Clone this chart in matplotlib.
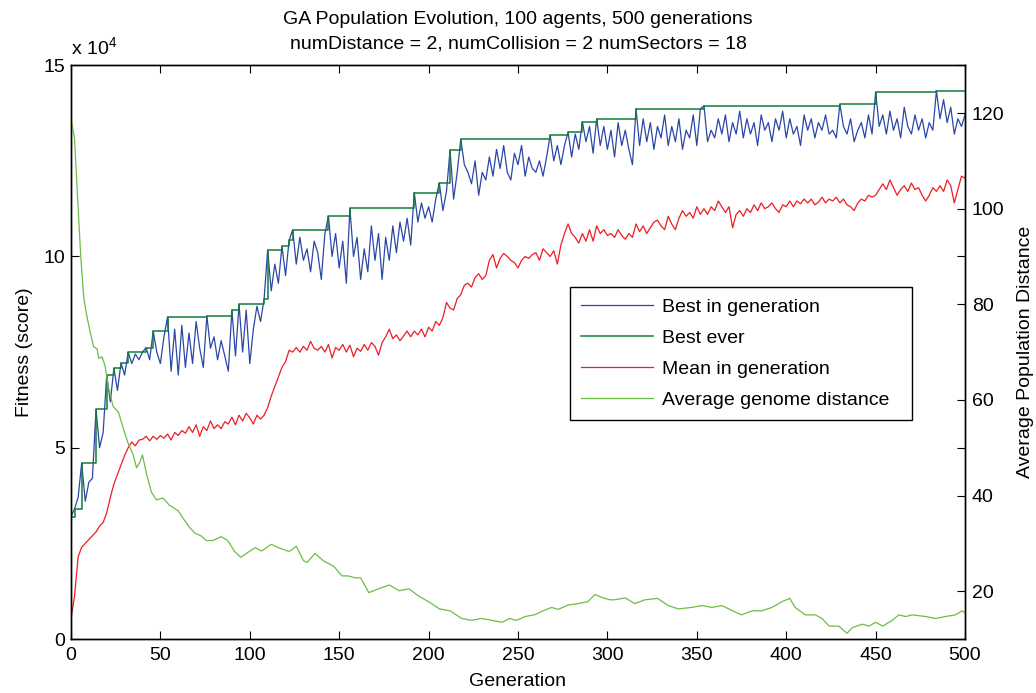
import numpy as np
import matplotlib.pyplot as plt

plt.rcParams['font.family'] = ['Liberation Sans', 'DejaVu Sans']
plt.rcParams['mathtext.fontset'] = 'custom'
plt.rcParams['mathtext.rm'] = 'Liberation Sans'

# fitness values in units of 1e4, one value every 2 generations (0..500)
best_gen = [
    3.2, 3.4, 3.7, 4.6, 3.6, 4.1, 4.2, 6.0, 5.0, 5.4,
    6.9, 6.2, 7.08, 6.5, 7.22, 6.9, 7.5, 7.2, 7.45, 7.3,
    7.5, 7.62, 7.3, 8.05, 7.5, 7.2, 7.9, 8.42, 7.0, 8.1,
    6.9, 8.2, 7.1, 8.0, 7.2, 8.3, 7.6, 7.1, 8.45, 7.6,
    7.9, 7.3, 7.8, 7.4, 7.0, 8.6, 7.4, 8.75, 7.5, 8.6,
    7.2, 8.1, 8.7, 8.3, 8.88, 10.17, 9.1, 9.8, 9.3, 10.27,
    9.5, 10.42, 10.7, 9.8, 10.5, 9.9, 10.2, 9.6, 10.4, 10.1,
    9.4, 10.6, 11.05, 10.0, 10.6, 9.7, 10.4, 9.3, 11.26, 10.0,
    10.5, 9.4, 10.2, 9.6, 10.8, 9.9, 10.6, 9.4, 10.5, 9.9,
    10.8, 10.1, 10.9, 10.4, 11.0, 10.3, 11.67, 10.9, 11.4, 11.0,
    11.3, 10.9, 11.5, 11.92, 11.2, 11.7, 12.78, 11.5, 12.2, 13.07,
    12.4, 12.2, 11.9, 12.5, 11.6, 12.2, 12.0, 12.6, 12.1, 12.8,
    12.3, 12.9, 12.2, 12.0, 12.7, 12.4, 12.9, 12.1, 12.6, 12.3,
    12.2, 12.5, 12.1, 12.6, 13.17, 12.5, 12.9, 12.4, 12.9, 13.25,
    12.6, 13.2, 12.8, 13.52, 13.0, 13.4, 12.7, 13.6, 12.9, 13.4,
    12.8, 13.3, 12.6, 13.5, 12.9, 13.3, 12.8, 12.4, 13.86, 12.9,
    13.6, 13.0, 13.5, 12.8, 13.4, 13.1, 13.7, 12.9, 13.4, 13.0,
    13.6, 12.8, 13.3, 13.1, 13.7, 12.9, 13.86, 13.94, 13.0, 13.3,
    13.1, 13.6, 13.2, 13.7, 13.0, 13.5, 13.2, 13.8, 13.1, 13.6,
    13.2, 13.5, 12.9, 13.7, 13.3, 13.5, 13.0, 13.6, 13.3, 13.8,
    13.1, 13.6, 13.2, 13.4, 12.9, 13.7, 13.3, 13.6, 13.1, 13.5,
    13.3, 13.7, 13.2, 13.3, 13.1, 13.98, 13.4, 13.2, 13.6, 13.0,
    13.3, 13.5, 13.1, 13.7, 13.2, 14.3, 13.4, 13.7, 13.2, 13.8,
    13.3, 13.6, 13.1, 13.9, 13.4, 13.2, 13.7, 13.3, 13.6, 13.1,
    13.5, 13.3, 14.33, 13.6, 14.1, 13.5, 13.9, 13.2, 13.6, 13.4,
    13.7,
]

mean_gen = [
    0.53, 1.12, 2.15, 2.4, 2.5, 2.6, 2.7, 2.8, 2.95, 3.05,
    3.3, 3.7, 4.05, 4.3, 4.55, 4.8, 5.0, 5.15, 5.05, 5.2,
    5.22, 5.3, 5.18, 5.3, 5.22, 5.32, 5.25, 5.36, 5.2, 5.4,
    5.32, 5.45, 5.38, 5.55, 5.4, 5.6, 5.3, 5.55, 5.45, 5.7,
    5.5, 5.6, 5.5, 5.68, 5.62, 5.8, 5.6, 5.85, 5.7, 5.9,
    5.78, 5.62, 5.85, 5.75, 5.85, 6.05, 6.35, 6.6, 6.85, 7.1,
    7.25, 7.55, 7.5, 7.62, 7.5, 7.65, 7.55, 7.78, 7.6, 7.55,
    7.65, 7.5, 7.7, 7.35, 7.62, 7.55, 7.7, 7.5, 7.68, 7.38,
    7.6, 7.52, 7.7, 7.55, 7.75, 7.65, 7.42, 7.75, 7.9, 8.1,
    7.85, 7.95, 7.8, 7.92, 8.05, 7.9, 8.05, 7.95, 8.1, 7.9,
    8.15, 8.05, 8.3, 8.2, 8.4, 8.8, 8.65, 8.6, 8.9, 9.0,
    9.25, 9.3, 9.2, 9.45, 9.55, 9.4, 9.5, 9.9, 10.05, 9.7,
    9.95, 10.08, 10.0, 9.9, 9.84, 9.7, 9.9, 10.0, 9.95, 10.05,
    10.1, 9.9, 10.2, 10.1, 10.0, 10.15, 9.8, 10.3, 10.6, 10.85,
    10.6, 10.5, 10.35, 10.6, 10.4, 10.7, 10.4, 10.8, 10.6, 10.7,
    10.55, 10.6, 10.5, 10.7, 10.55, 10.45, 10.6, 10.5, 10.85, 10.65,
    10.8, 10.6, 10.75, 10.9, 10.95, 10.8, 10.7, 11.05, 10.85, 10.7,
    11.0, 11.2, 11.05, 11.15, 11.0, 11.3, 11.1, 11.25, 11.1, 11.3,
    11.2, 11.45, 11.3, 11.15, 11.3, 10.75, 11.1, 11.2, 11.05, 11.25,
    11.15, 11.35, 11.2, 11.4, 11.25, 11.3, 11.4, 11.25, 11.15, 11.35,
    11.3, 11.45, 11.3, 11.45, 11.38, 11.5, 11.4, 11.5, 11.35, 11.42,
    11.55, 11.4, 11.5, 11.45, 11.55, 11.4, 11.5, 11.35, 11.3, 11.2,
    11.4, 11.5, 11.45, 11.6, 11.55, 11.6, 11.75, 11.9, 11.75, 12.0,
    11.8, 11.6, 11.75, 11.85, 11.7, 11.92, 11.75, 11.8, 11.6, 11.45,
    11.6, 11.8, 11.7, 11.85, 11.7, 12.0, 11.85, 11.4, 11.75, 12.1,
    12.05,
]

# best ever: generation where a new record starts, and its value
be_gen = [0, 2, 6, 14, 20, 24, 28, 32, 42, 46, 54, 76, 90, 94, 108, 110,
          118, 122, 124, 144, 156, 192, 206, 212, 218, 268, 278, 286, 294,
          316, 354, 430, 450, 484, 500]
be_val = [3.2, 3.4, 4.6, 6.0, 6.9, 7.08, 7.22, 7.5, 7.62, 8.05, 8.42, 8.45,
          8.6, 8.75, 8.88, 10.17, 10.27, 10.42, 10.7, 11.05, 11.26, 11.67,
          11.92, 12.78, 13.07, 13.17, 13.25, 13.52, 13.6, 13.86, 13.94,
          13.98, 14.3, 14.33, 14.33]

# average genome distance (right axis)
dist_gen = [0, 2, 3.5, 5.4, 7.2, 9, 11, 12.7, 14.6, 15.5, 17.4, 19, 21, 23.6,
            26.5, 29.3, 32, 34.8, 36.7, 38.5, 40, 42.2, 45, 47.8, 51.5, 55,
            60, 62.6, 66.4, 69.2, 73, 75.6, 79.4, 84, 87.7, 91.5, 95, 99.7,
            103, 106.6, 112, 116, 122, 126, 130, 132, 136.5, 141, 145, 147,
            151.5, 155, 159, 162, 166.6, 172, 178, 183.5, 189, 194.6, 200,
            201.7, 206, 212, 218.5, 224, 229.7, 235.3, 241, 245.4, 249, 254,
            259.5, 264, 268.8, 272.5, 278, 283.7, 289, 293, 297.6, 301.4,
            304, 310, 315.3, 321, 328, 334, 339.7, 347, 353, 358.4, 364, 370,
            375, 381, 386.4, 392, 397.6, 402, 405, 410.7, 416.3, 420, 424,
            429.4, 434, 437, 442.6, 446.3, 450, 454, 459.3, 463, 466.8,
            470.5, 478, 483.5, 489, 494.6, 498.4, 500]
dist_val = [118.9, 114.6, 103.7, 90.5, 81.2, 77.3, 73.8, 71.1, 70.7, 68.7,
            69.0, 67.2, 62.5, 58.6, 57.5, 54.0, 50.9, 48.5, 45.8, 47.0, 48.5,
            44.6, 40.7, 39.1, 39.5, 38.0, 36.8, 35.3, 33.3, 32.2, 31.5, 30.6,
            30.6, 31.4, 30.6, 28.3, 27.1, 28.3, 29.1, 28.4, 29.8, 29.1, 28.3,
            29.4, 26.4, 26.0, 27.9, 26.4, 25.6, 25.2, 23.2, 23.2, 22.8, 22.8,
            19.7, 20.5, 21.3, 20.1, 20.5, 18.95, 17.8, 17.4, 16.3, 15.9, 14.3,
            13.9, 14.3, 13.9, 13.5, 14.3, 13.9, 14.7, 15.1, 15.9, 16.6, 16.2,
            17.1, 17.4, 17.8, 19.3, 18.6, 18.2, 18.2, 18.6, 17.4, 18.2, 18.5,
            17.0, 16.3, 16.6, 17.0, 16.6, 17.0, 15.9, 15.05, 15.9, 15.9, 16.6,
            17.8, 18.5, 16.6, 15.05, 15.05, 14.3, 12.7, 12.7, 11.2, 12.4,
            13.1, 12.7, 13.5, 12.7, 13.9, 15.05, 14.7, 15.05, 14.7, 14.3,
            14.7, 15.05, 15.9, 15.5]

gens = np.arange(len(best_gen)) * 2

fig = plt.figure(figsize=(10.36, 6.93), dpi=100)
ax = fig.add_axes([0.0685, 0.0779, 0.863, 0.828])
ax2 = ax.twinx()

l1, = ax.plot(gens, best_gen, color='#2a47a6', lw=0.9, label='Best in generation')
l2, = ax.step(be_gen, be_val, where='post', color='#137a3c', lw=1.1, label='Best ever')
l3, = ax.plot(gens, mean_gen, color='#ee1c24', lw=0.9, label='Mean in generation')
l4, = ax2.plot(dist_gen, dist_val, color='#6cbd45', lw=0.9, label='Average genome distance')

ax.set_xlim(0, 500)
ax.set_ylim(0, 15)
ax.set_xticks(np.arange(0, 501, 50))
ax.set_yticks([0, 5, 10, 15])
ax2.set_ylim(10, 130)
ax2.set_yticks(np.arange(20, 121, 20))

ax.tick_params(direction='in', top=True, right=True, length=6, labelsize=14)
ax.tick_params(axis='x', pad=6)
ax.tick_params(axis='y', pad=4)
ax2.tick_params(direction='in', length=6, labelsize=14, pad=5)
for a in (ax, ax2):
    for s in a.spines.values():
        s.set_linewidth(1.0)

ax.set_xlabel('Generation', fontsize=14, labelpad=6)
ax.set_ylabel('Fitness (score)', fontsize=14, labelpad=8)
ax2.set_ylabel('Average Population Distance', fontsize=14, labelpad=9)
ax.text(0.0, 1.01, r'x 10$^4$', transform=ax.transAxes, fontsize=14,
        ha='left', va='bottom')

fig.text(0.5, 1 - 20 / 693, 'GA Population Evolution, 100 agents, 500 generations',
         ha='center', va='center', fontsize=14)
fig.text(0.5, 1 - 44 / 693, 'numDistance = 2, numCollision = 2 numSectors = 18',
         ha='center', va='center', fontsize=14)

leg = ax2.legend(handles=[l1, l2, l3, l4], loc='upper left',
                 bbox_to_anchor=(0.558, 0.30, 0.3826, 0.313), mode='expand',
                 fontsize=14, handlelength=3.75, handletextpad=0.45,
                 borderpad=0.55, labelspacing=0.7, borderaxespad=0,
                 fancybox=False, framealpha=1)
leg.get_frame().set_edgecolor('black')
leg.get_frame().set_linewidth(1.0)

fig.savefig('out.png', dpi=100)
